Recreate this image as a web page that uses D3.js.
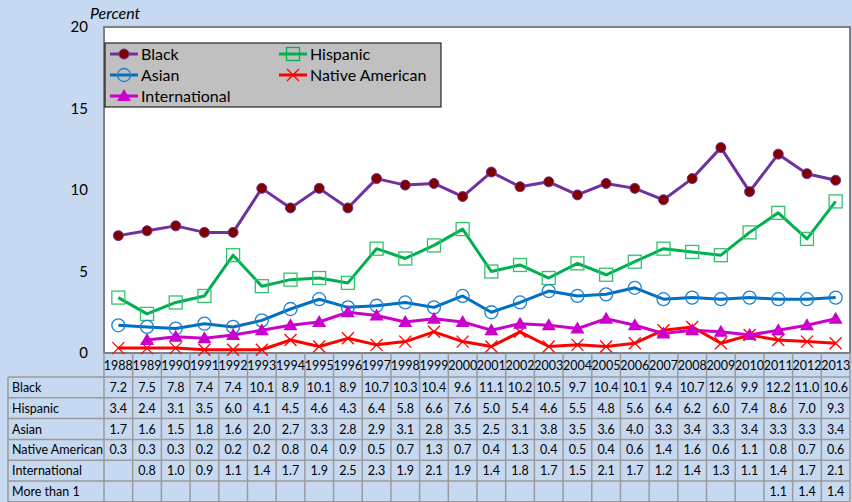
<!DOCTYPE html>
<html>
<head>
<meta charset="utf-8">
<script src="https://cdn.jsdelivr.net/npm/d3@7"></script>
<style>
  body { margin: 0; background: #c6d9f1; }
  svg { display: block; font-family: Lato, "Open Sans", sans-serif; }
</style>
</head>
<body>
<svg id="chart"></svg>
<script>
const years = ["1988","1989","1990","1991","1992","1993","1994","1995","1996","1997","1998","1999","2000",
  "2001","2002","2003","2004","2005","2006","2007","2008","2009","2010","2011","2012","2013"];
const black = [7.2,7.5,7.8,7.4,7.4,10.1,8.9,10.1,8.9,10.7,10.3,10.4,9.6,11.1,10.2,10.5,9.7,10.4,10.1,9.4,10.7,12.6,9.9,12.2,11.0,10.6];
const hispanic = [3.4,2.4,3.1,3.5,6.0,4.1,4.5,4.6,4.3,6.4,5.8,6.6,7.6,5.0,5.4,4.6,5.5,4.8,5.6,6.4,6.2,6.0,7.4,8.6,7.0,9.3];
const asian = [1.7,1.6,1.5,1.8,1.6,2.0,2.7,3.3,2.8,2.9,3.1,2.8,3.5,2.5,3.1,3.8,3.5,3.6,4.0,3.3,3.4,3.3,3.4,3.3,3.3,3.4];
const nativeAmerican = [0.3,0.3,0.3,0.2,0.2,0.2,0.8,0.4,0.9,0.5,0.7,1.3,0.7,0.4,1.3,0.4,0.5,0.4,0.6,1.4,1.6,0.6,1.1,0.8,0.7,0.6];
const international = [null,0.8,1.0,0.9,1.1,1.4,1.7,1.9,2.5,2.3,1.9,2.1,1.9,1.4,1.8,1.7,1.5,2.1,1.7,1.2,1.4,1.3,1.1,1.4,1.7,2.1];
const moreThanOne = [null,null,null,null,null,null,null,null,null,null,null,null,null,null,null,null,null,null,null,null,null,null,null,1.1,1.4,1.4];
const yTicks = [0, 5, 10, 15, 20];

const series = [
  { name: "Black", values: black, color: "#7030a0", marker: "dot", inLegend: true },
  { name: "Hispanic", values: hispanic, color: "#00b050", marker: "square", inLegend: true },
  { name: "Asian", values: asian, color: "#0070c0", marker: "circle", inLegend: true },
  { name: "Native American", values: nativeAmerican, color: "#ff0000", marker: "cross", inLegend: true },
  { name: "International", values: international, color: "#cc00cc", marker: "triangle", inLegend: true },
  { name: "More than 1", values: moreThanOne, color: "none", marker: "none", inLegend: false }
];

const width = 852, height = 502;
const plot = { left: 104, top: 27, right: 850, bottom: 353 };

const svg = d3.select("#chart").attr("width", width).attr("height", height);

const x = d3.scaleBand().domain(years).range([plot.left, plot.right]);
const y = d3.scaleLinear().domain([0, 20]).range([plot.bottom, plot.top]);

// plot area
svg.append("rect")
  .attr("x", plot.left).attr("y", plot.top)
  .attr("width", plot.right - plot.left).attr("height", plot.bottom - plot.top)
  .attr("fill", "#fff").attr("stroke", "#808080").attr("stroke-width", 2);

// y axis labels
svg.append("g").selectAll("text").data(yTicks).join("text")
  .attr("x", 88).attr("y", d => y(d) + 5)
  .attr("text-anchor", "end").attr("font-size", 15).attr("fill", "#000")
  .text(d => d);

svg.append("text").attr("x", 90).attr("y", 19)
  .attr("font-size", 16).attr("font-style", "italic").text("Percent");

// table
const rowH = 20.8;
const headTop = plot.bottom, tableTop = 377;
const table = svg.append("g");
const gridColor = "#9a9a9a";

// vertical lines through header and table
table.selectAll("line.v").data(years.concat(["end"])).join("line")
  .attr("class", "v")
  .attr("x1", (d, i) => i < years.length ? x(d) : plot.right)
  .attr("x2", (d, i) => i < years.length ? x(d) : plot.right)
  .attr("y1", headTop).attr("y2", height)
  .attr("stroke", gridColor).attr("stroke-width", 1.5);

// label column left edge
table.append("line").attr("x1", 8).attr("x2", 8).attr("y1", tableTop).attr("y2", height)
  .attr("stroke", gridColor).attr("stroke-width", 1.5);

// horizontal lines
table.selectAll("line.h").data(d3.range(series.length + 1)).join("line")
  .attr("class", "h")
  .attr("x1", 8).attr("x2", plot.right)
  .attr("y1", i => tableTop + i * rowH).attr("y2", i => tableTop + i * rowH)
  .attr("stroke", gridColor).attr("stroke-width", 1.5);

table.selectAll("text.year").data(years).join("text")
  .attr("class", "year")
  .attr("x", d => x(d) + x.bandwidth() / 2).attr("y", 370)
  .attr("text-anchor", "middle").attr("font-size", 12.5)
  .text(d => d);

series.forEach((s, r) => {
  const cy = tableTop + r * rowH + rowH / 2 + 4.5;
  table.append("text").attr("x", 12).attr("y", cy).attr("font-size", 12.5).text(s.name);
  table.append("g").selectAll("text").data(s.values).join("text")
    .attr("x", (d, i) => x(years[i]) + x.bandwidth() / 2).attr("y", cy)
    .attr("text-anchor", "middle").attr("font-size", 12.5)
    .text(d => d == null ? "" : d.toFixed(1));
});

// markers
function drawMarker(g, s, px, py, legend) {
  if (s.marker === "dot") {
    g.append("circle").attr("cx", px).attr("cy", py).attr("r", 5)
      .attr("fill", "#800000").attr("stroke", s.color).attr("stroke-width", 1);
  } else if (s.marker === "square") {
    g.append("rect").attr("x", px - 6.5).attr("y", py - 6.5).attr("width", 13).attr("height", 13)
      .attr("fill", "none").attr("stroke", legend ? s.color : "#33c26f").attr("stroke-width", 1.3);
  } else if (s.marker === "circle") {
    g.append("circle").attr("cx", px).attr("cy", py).attr("r", 6.5)
      .attr("fill", "none").attr("stroke", "#2080d0").attr("stroke-width", 1.3);
  } else if (s.marker === "cross") {
    g.append("path").attr("d", `M${px - 6},${py - 6}L${px + 6},${py + 6}M${px - 6},${py + 6}L${px + 6},${py - 6}`)
      .attr("stroke", s.color).attr("stroke-width", 1.3);
  } else if (s.marker === "triangle") {
    g.append("path").attr("d", `M${px},${py - 7}L${px + 7},${py + 5}L${px - 7},${py + 5}Z`)
      .attr("fill", s.color);
  }
}

const line = d3.line()
  .defined(d => d != null)
  .x((d, i) => x(years[i]) + x.bandwidth() / 2)
  .y(d => y(d));

series.filter(s => s.marker !== "none").forEach(s => {
  const g = svg.append("g");
  g.append("path").datum(s.values)
    .attr("d", line).attr("fill", "none")
    .attr("stroke", s.color).attr("stroke-width", 3).attr("stroke-linejoin", "round");
  s.values.forEach((v, i) => {
    if (v == null) return;
    drawMarker(g, s, x(years[i]) + x.bandwidth() / 2, y(v), false);
  });
});

// legend
const legend = svg.append("g");
legend.append("rect").attr("x", 105).attr("y", 43).attr("width", 336).attr("height", 64)
  .attr("fill", "#c0c0c0").attr("stroke", "#000").attr("stroke-width", 1);

const legendItems = series.filter(s => s.inLegend);
legendItems.forEach((s, i) => {
  const col = i % 2, row = Math.floor(i / 2);
  const lx = 110 + col * 169, ly = 54 + row * 21;
  legend.append("line").attr("x1", lx).attr("x2", lx + 28).attr("y1", ly).attr("y2", ly)
    .attr("stroke", s.color).attr("stroke-width", 3);
  drawMarker(legend, s, lx + 14, ly, true);
  legend.append("text").attr("x", lx + 31).attr("y", ly + 6)
    .attr("font-size", 16).text(s.name);
});
</script>
</body>
</html>
